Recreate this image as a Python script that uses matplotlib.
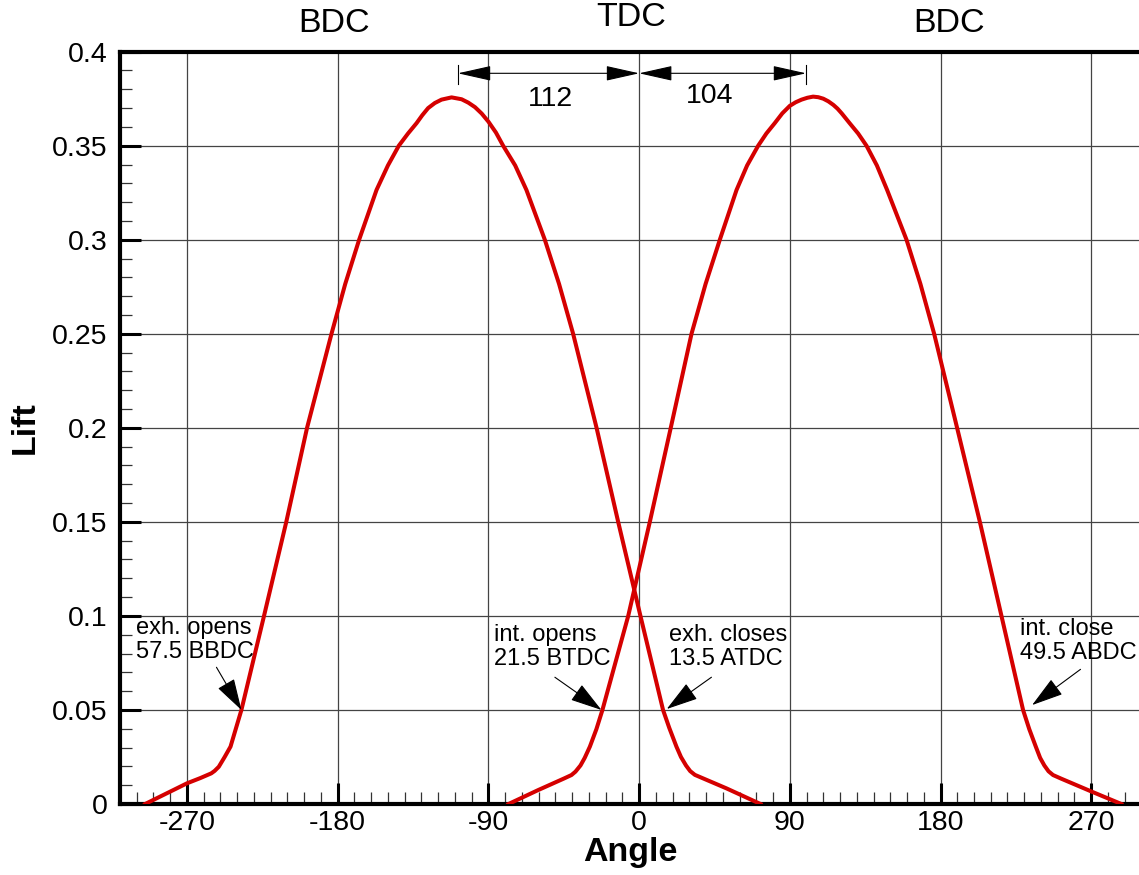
import numpy as np
import matplotlib.pyplot as plt
from matplotlib.ticker import MultipleLocator

plt.rcParams['font.family'] = ['Liberation Sans', 'DejaVu Sans']

# exhaust valve lift
ex_angle = [-295, -270, -262, -255.5, -253.5, -251, -247.5, -244, -241, -237.5,
            -224, -210.7, -198.3, -183.7, -175.5, -167.2, -156.8, -150, -143.5, -138,
            -132.9, -129.5, -126, -122, -118, -112, -106, -102, -98, -94,
            -90, -85.5, -81.2, -74, -67.3, -56.3, -47.8, -39.4, -25.4, -12.5,
            0.8, 14.3, 18, 22.3, 25, 28, 30.5, 33.3, 38, 52.2, 72.5]
ex_lift = [0, 0.011, 0.0138, 0.0163, 0.0176, 0.0198, 0.025, 0.0305, 0.0395, 0.05,
           0.1, 0.15, 0.2, 0.25, 0.2765, 0.3, 0.3265, 0.3395, 0.35, 0.3565,
           0.362, 0.3662, 0.37, 0.3727, 0.3745, 0.3757, 0.3747, 0.3729, 0.3705, 0.3671,
           0.3628, 0.357, 0.35, 0.3395, 0.3265, 0.30, 0.2765, 0.25, 0.2, 0.15,
           0.1, 0.05, 0.0405, 0.0305, 0.025, 0.0205, 0.0175, 0.0155, 0.0137, 0.0083, 0]

# intake valve lift
in_angle = [-78, -60.3, -45, -40.4, -38, -35, -32.5, -29.4, -25.5, -21.9,
            -6.5, 6.4, 18.9, 31.3, 39.7, 48.2, 58.2, 64.5, 71.1, 76,
            81, 85.5, 90, 93.5, 97, 100.5, 103.9, 107, 110, 113,
            116, 118.5, 121, 125.8, 130.8, 135.8, 142, 148.1, 159.7, 168,
            176.2, 189.9, 203.5, 216.4, 229.3, 233, 236.9, 239.5, 242, 244.5,
            247.2, 252, 270.5, 288]
in_lift = [0, 0.0074, 0.0135, 0.0154, 0.0172, 0.0205, 0.0245, 0.0305, 0.0398, 0.05,
           0.1, 0.15, 0.2, 0.25, 0.2765, 0.3, 0.3265, 0.3395, 0.35, 0.3565,
           0.362, 0.3672, 0.3712, 0.3731, 0.3745, 0.3755, 0.3761, 0.3758, 0.375, 0.3736,
           0.3717, 0.3697, 0.3672, 0.3619, 0.3565, 0.35, 0.3395, 0.3265, 0.30, 0.2765,
           0.25, 0.2, 0.15, 0.1, 0.05, 0.0398, 0.0305, 0.0245, 0.0205, 0.0174,
           0.0154, 0.0135, 0.0065, 0]

x_ticks = [-270, -180, -90, 0, 90, 180, 270]
y_ticks = [0, 0.05, 0.1, 0.15, 0.2, 0.25, 0.3, 0.35, 0.4]
y_labels = ['0', '0.05', '0.1', '0.15', '0.2', '0.25', '0.3', '0.35', '0.4']

# top markers
dead_centres = [('BDC', -182, 1.038), ('TDC', -4.5, 1.046), ('BDC', 185, 1.038)]

# valve events: text, text pos, arrow tail, arrow tip
events = [
    ('exh. opens\n57.5 BBDC', (-300.6, 0.0992), (-252.4, 0.0727), (-237.5, 0.05)),
    ('int. opens\n21.5 BTDC', (-86.6, 0.0955), (-50.3, 0.0674), (-22.5, 0.05)),
    ('exh. closes\n13.5 ATDC', (17.7, 0.0955), (43.2, 0.0674), (16.5, 0.0505)),
    ('int. close\n49.5 ABDC', (227.7, 0.099), (263.6, 0.0716), (234.7, 0.0526)),
]

# duration dimensions
dims = [('112', -108.2, 0, (-52.7, 0.3748)), ('104', 0, 99.7, (42.2, 0.3764))]
dim_y = 0.3885

fig = plt.figure(figsize=(11.39, 8.75), dpi=100)
ax = fig.add_axes([0.10536, 0.08114, 0.8968, 0.8598])

ax.plot(ex_angle, ex_lift, color='#d50000', lw=2.9, zorder=3, solid_joinstyle='round')
ax.plot(in_angle, in_lift, color='#d50000', lw=2.9, zorder=3, solid_joinstyle='round')

ax.set_xlim(-310, 300)
ax.set_ylim(0, 0.4)
ax.set_xticks(x_ticks)
ax.set_xticklabels([str(v) for v in x_ticks])
ax.set_yticks(y_ticks)
ax.set_yticklabels(y_labels)
ax.xaxis.set_minor_locator(MultipleLocator(10))
ax.yaxis.set_minor_locator(MultipleLocator(0.01))
ax.tick_params(which='major', direction='in', length=15, width=2.2, labelsize=20.5,
               top=False, right=False, color='black')
ax.tick_params(axis='x', which='major', pad=4)
ax.tick_params(axis='y', which='major', pad=9)
ax.tick_params(which='minor', direction='in', length=8.5, width=0.9, color='#333333',
               top=False, right=False)
ax.grid(True, which='major', color='#444444', lw=0.9, zorder=1)
ax.set_axisbelow(True)

for side in ['left', 'bottom', 'top']:
    ax.spines[side].set_linewidth(3)
ax.spines['right'].set_visible(False)

ax.set_xlabel('Angle', fontsize=24.5, fontweight='bold', labelpad=1)
ax.set_ylabel('Lift', fontsize=24.5, fontweight='bold', labelpad=8)

trans = ax.get_xaxis_transform()
for label, xpos, ypos in dead_centres:
    ax.text(xpos, ypos, label, transform=trans, ha='center', va='center',
            fontsize=24.5, clip_on=False)

for label, tpos, tail, tip in events:
    ax.text(tpos[0], tpos[1], label, ha='left', va='top', fontsize=17, linespacing=1.12,
            zorder=4)
    ax.annotate('', xy=tip, xytext=tail,
                arrowprops=dict(arrowstyle='-|>,head_length=20,head_width=6',
                                mutation_scale=1, lw=0.8, color='black',
                                shrinkA=0, shrinkB=0))

for label, x0, x1, tpos in dims:
    ax.annotate('', xy=(x0, dim_y), xytext=(x1, dim_y),
                arrowprops=dict(arrowstyle='<|-|>,head_length=21,head_width=4.7',
                                mutation_scale=1, lw=0.8, color='black',
                                shrinkA=0, shrinkB=0))
    ax.text(tpos[0], tpos[1], label, ha='center', va='center', fontsize=20.5)
for xe in [dims[0][1], dims[1][2]]:
    ax.plot([xe, xe], [0.383, 0.393], color='black', lw=0.8)

fig.savefig('out.png', dpi=100)
